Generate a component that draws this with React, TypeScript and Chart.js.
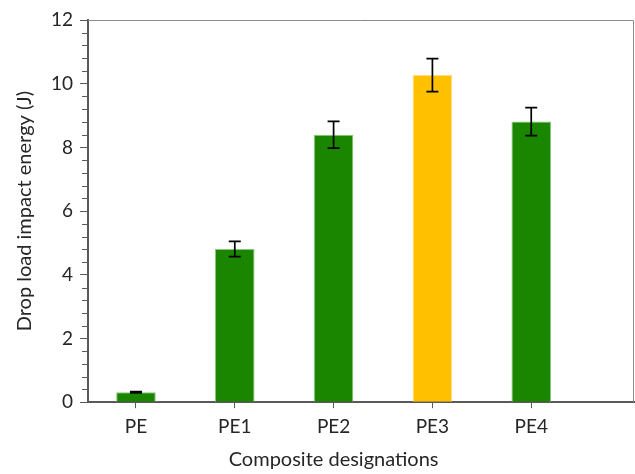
import { useEffect, useRef } from 'react';
import { Chart, registerables } from 'chart.js';

Chart.register(...registerables);

const categories = ['PE', 'PE1', 'PE2', 'PE3', 'PE4'];
const energy = [0.31, 4.81, 8.4, 10.27, 8.81];
const errors = [0.02, 0.24, 0.42, 0.52, 0.44];
const barColors = ['#1a8600', '#1a8600', '#1a8600', '#ffc000', '#1a8600'];
const barEdgeColors = ['#86c878', '#86c878', '#86c878', '#ffdd80', '#86c878'];
const yMinorStep = 0.4;
const xTitle = 'Composite designations';
const yTitle = 'Drop load impact energy (J)';

const FONT = 'Lato';
const TEXT = '#262626';
const AXIS = '#595959';

const errorBarPlugin = {
  id: 'errorBars',
  afterDatasetsDraw(chart: any) {
    const meta = chart.getDatasetMeta(0);
    const y = chart.scales.y;
    const ctx = chart.ctx;
    ctx.save();
    ctx.strokeStyle = '#000';
    ctx.lineWidth = 1.7;
    meta.data.forEach((bar: any, i: number) => {
      const top = y.getPixelForValue(energy[i] + errors[i]);
      const bot = y.getPixelForValue(energy[i] - errors[i]);
      const half = 6;
      ctx.beginPath();
      ctx.moveTo(bar.x, top);
      ctx.lineTo(bar.x, bot);
      ctx.moveTo(bar.x - half, top);
      ctx.lineTo(bar.x + half, top);
      ctx.moveTo(bar.x - half, bot);
      ctx.lineTo(bar.x + half, bot);
      ctx.stroke();
    });
    ctx.restore();
  },
};

const framePlugin = {
  id: 'frame',
  afterDraw(chart: any) {
    const { ctx, chartArea, scales } = chart;
    const y = scales.y;
    const x = scales.x;
    ctx.save();
    ctx.strokeStyle = '#8c8c8c';
    ctx.lineWidth = 1;
    ctx.beginPath();
    ctx.moveTo(chartArea.left, chartArea.top + 0.5);
    ctx.lineTo(chartArea.right - 0.5, chartArea.top + 0.5);
    ctx.lineTo(chartArea.right - 0.5, chartArea.bottom);
    ctx.stroke();
    ctx.strokeStyle = AXIS;
    ctx.lineWidth = 1;
    const n = Math.round((y.max - y.min) / yMinorStep);
    ctx.beginPath();
    for (let k = 0; k <= n; k++) {
      const v = y.min + k * yMinorStep;
      if (Math.abs(v / 2 - Math.round(v / 2)) < 1e-6) continue;
      const py = Math.round(y.getPixelForValue(v)) + 0.5;
      ctx.moveTo(chartArea.left - 6, py);
      ctx.lineTo(chartArea.left, py);
    }
    ctx.stroke();
    ctx.fillStyle = TEXT;
    ctx.font = `20px ${FONT}`;
    ctx.textAlign = 'center';
    ctx.textBaseline = 'alphabetic';
    const cx = x.getPixelForValue((categories.length - 1) / 2);
    ctx.fillText(xTitle, cx, x.bottom + 21);
    ctx.restore();
  },
};

export default function App() {
  const ref = useRef<HTMLCanvasElement>(null);
  useEffect(() => {
    if (!ref.current) return;
    const chart = new Chart(ref.current, {
      type: 'bar',
      data: {
        datasets: [
          {
            data: categories.map((_, i) => ({ x: i, y: energy[i] })) as any,
            backgroundColor: barColors,
            borderColor: barEdgeColors,
            borderWidth: 1,
            barPercentage: 0.4,
            categoryPercentage: 1,
          },
        ],
      },
      options: {
        animation: false,
        responsive: false,
        devicePixelRatio: 1,
        layout: { padding: { left: 13, right: 1, top: 20, bottom: 29 } },
        plugins: {
          legend: { display: false },
          tooltip: { enabled: false },
        },
        scales: {
          x: {
            type: 'linear',
            min: -0.485,
            max: 5.04,
            offset: false,
            afterBuildTicks: (scale: any) => {
              scale.ticks = categories.map((_, i) => ({ value: i }));
            },
            grid: {
              display: true,
              offset: false,
              drawOnChartArea: false,
              drawTicks: true,
              tickLength: 6,
              color: AXIS,
            },
            border: { color: AXIS, width: 2 },
            ticks: {
              autoSkip: false,
              maxRotation: 0,
              padding: 7,
              color: TEXT,
              font: { family: FONT, size: 19 },
              callback: (v: any) => categories[v] ?? '',
            },
          },
          y: {
            min: 0,
            max: 12,
            grid: {
              drawOnChartArea: false,
              drawTicks: true,
              tickLength: 8,
              color: AXIS,
            },
            border: { color: AXIS, width: 2 },
            ticks: {
              stepSize: 2,
              padding: 7,
              color: TEXT,
              font: { family: FONT, size: 19 },
            },
            title: {
              display: true,
              text: yTitle,
              color: TEXT,
              font: { family: FONT, size: 20 },
              padding: { top: 0, bottom: 7 },
            },
          },
        },
      },
      plugins: [errorBarPlugin, framePlugin],
    });
    return () => chart.destroy();
  }, []);
  return (
    <div style={{ position: 'fixed', left: 0, top: 0, width: 635, height: 474, background: '#fff' }}>
      <canvas ref={ref} width={635} height={474} />
    </div>
  );
}
